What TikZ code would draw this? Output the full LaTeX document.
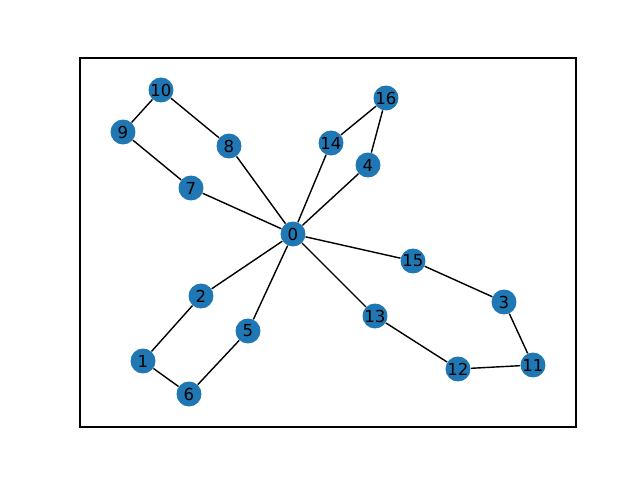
\documentclass[tikz,border=0pt]{standalone}
\usepackage{fontspec}
\setmainfont{DejaVu Sans}
\usepackage{tikz}
\usetikzlibrary{calc}
\definecolor{mpblue}{RGB}{31,119,180}
\tikzset{
  vertex/.style={circle, fill=mpblue, draw=none, inner sep=0pt,
    minimum size=0.5cm, font=\fontsize{9.4}{11}\selectfont},
  edge/.style={line width=0.8pt, color=black},
  frame/.style={line width=0.6pt, color=black}
}
\begin{document}
\begin{tikzpicture}[x=0.02cm, y=-0.02cm]
  \useasboundingbox (0,0) rectangle (640,480);
  % Axes frame
  \draw[frame] (80,58) rectangle (576,427);

  % Draw nodes
  \node[vertex] (n0) at (293,234) {0};
  \node[vertex] (n1) at (143,361) {1};
  \node[vertex] (n2) at (201,296) {2};
  \node[vertex] (n3) at (504,302) {3};
  \node[vertex] (n4) at (368,165) {4};
  \node[vertex] (n5) at (248,331) {5};
  \node[vertex] (n6) at (189,394) {6};
  \node[vertex] (n7) at (191,188) {7};
  \node[vertex] (n8) at (229,146) {8};
  \node[vertex] (n9) at (123,132) {9};
  \node[vertex] (n10) at (161,90) {10};
  \node[vertex] (n11) at (533,365) {11};
  \node[vertex] (n12) at (458,369) {12};
  \node[vertex] (n13) at (375,316) {13};
  \node[vertex] (n14) at (331,143) {14};
  \node[vertex] (n15) at (413,261) {15};
  \node[vertex] (n16) at (386,98) {16};

  % Edges from the hub
  \draw[edge] (n0) -- (n7);
  \draw[edge] (n0) -- (n8);
  \draw[edge] (n0) -- (n14);
  \draw[edge] (n0) -- (n4);
  \draw[edge] (n0) -- (n15);
  \draw[edge] (n0) -- (n13);
  \draw[edge] (n0) -- (n5);
  \draw[edge] (n0) -- (n2);

  % Outer loops
  \draw[edge] (n7) -- (n9);
  \draw[edge] (n9) -- (n10);
  \draw[edge] (n10) -- (n8);
  \draw[edge] (n14) -- (n16);
  \draw[edge] (n16) -- (n4);
  \draw[edge] (n15) -- (n3);
  \draw[edge] (n3) -- (n11);
  \draw[edge] (n11) -- (n12);
  \draw[edge] (n12) -- (n13);
  \draw[edge] (n2) -- (n1);
  \draw[edge] (n1) -- (n6);
  \draw[edge] (n6) -- (n5);
\end{tikzpicture}
\end{document}
